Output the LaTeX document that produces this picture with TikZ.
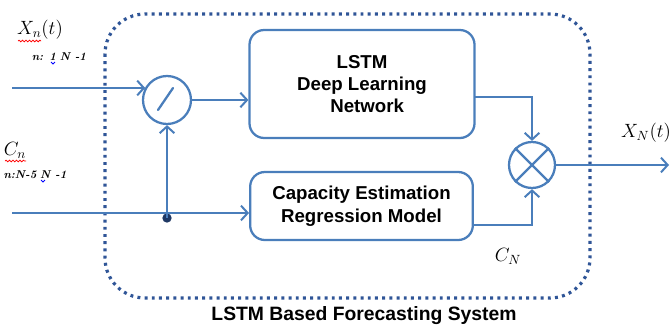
\documentclass[tikz,border=0pt]{standalone}
\usepackage{fontspec}
\setsansfont{Liberation Sans}
\usetikzlibrary{arrows.meta,decorations.pathmorphing,calc}
\definecolor{lineblue}{HTML}{4A7EBB}
\definecolor{dotblue}{HTML}{2F5597}
\definecolor{dotnavy}{HTML}{1F3864}
\tikzset{
  conn/.style={draw=lineblue,line width=1.7pt,-{Straight Barb[length=5pt,width=11pt,line width=1.5pt]}},
  plain/.style={draw=lineblue,line width=1.7pt},
  blockbox/.style={draw=lineblue,line width=1.7pt,rounded corners=11pt,align=center,
    font=\sffamily\bfseries\fontsize{14}{16.5}\selectfont},
  opcirc/.style={circle,draw=lineblue,line width=1.7pt,inner sep=0pt},
  lbl/.style={inner sep=0pt,font=\fontsize{14.5}{16}\selectfont},
  sublbl/.style={inner sep=0pt,font=\itshape\bfseries\fontsize{8.5}{10}\selectfont},
  squig/.style={draw=red,line width=0.6pt,decorate,decoration={snake,amplitude=0.6pt,segment length=2.6pt}},
}
\begin{document}
\begin{tikzpicture}[x=0.75pt,y=-0.75pt]
\useasboundingbox (0,0) rectangle (670,325);
% outer dotted system border
\draw[dotblue,line width=2.4pt,dash pattern=on 2.2pt off 3.2pt,rounded corners=30pt]
  (105,14) rectangle (590,298);
\node[font=\sffamily\bfseries\fontsize{14.5}{16}\selectfont,inner sep=0pt] (title) at (364,316) {LSTM Based Forecasting System};

% blocks
\node[blockbox,minimum width=168.75pt,minimum height=81pt] (lstm) at (362,84) {LSTM\\Deep Learning\\\ \ Network};
\node[blockbox,minimum width=167pt,minimum height=51pt] (cap) at (361.5,206) {\raisebox{-4pt}{\shortstack{Capacity Estimation\\[1pt]Regression Model}}};

% switch circle
\node[opcirc,minimum size=36pt] (sw) at (167,100) {};
\draw[plain,line cap=round] ($(sw.center)+(-9,10)$) -- ($(sw.center)+(6,-12)$);
% multiply circle
\node[opcirc,minimum size=34.5pt] (mul) at (532,165) {};
\draw[plain] (mul.45) -- (mul.225) (mul.135) -- (mul.315);

% junction dot
\node[circle,fill=dotnavy,minimum size=7pt,inner sep=0pt] (jd) at (167,218) {};

% free ends
\coordinate (in1) at (12,88);
\coordinate (in2) at (12,213);
\coordinate (out) at (669,165);
\coordinate (lo) at (475,97);
\coordinate (co) at (473,225);

% connectors
\draw[conn] (in1) -- (in1 -| sw.150);
\draw[conn] (in2) -- (in2 -| cap.west);
\draw[conn] (jd.center) -- (sw.south);
\draw[conn] (sw.east) -- (sw.east -| lstm.west);
\draw[conn] (lo) -| (mul.north);
\draw[conn] (co) -| (mul.south);
\draw[conn] (mul.east) -- (out);

% labels
\node[lbl] (xn) at (40,30) {$X_n(t)$};
\node[sublbl] (xnr) at (59,57) {n: 1\,\,N -1};
\node[lbl] (cn) at (15,150) {$C_n$};
\node[sublbl] (cnr) at (35,175) {n:N-5\,\,N -1};
\node[lbl] (xo) at (646,133) {$X_N(t)$};
\node[lbl] (cN) at (508,256) {$C_N$};
% spell-check squiggles
\draw[squig] (18,41) -- (41,41);
\draw[squig] (5,161) -- (26,161);
\draw[draw=blue,line width=0.6pt] (51,62) -- (53,64) -- (55,62);
\draw[draw=blue,line width=0.6pt] (41,180) -- (43,182) -- (45,180);
\end{tikzpicture}
\end{document}
